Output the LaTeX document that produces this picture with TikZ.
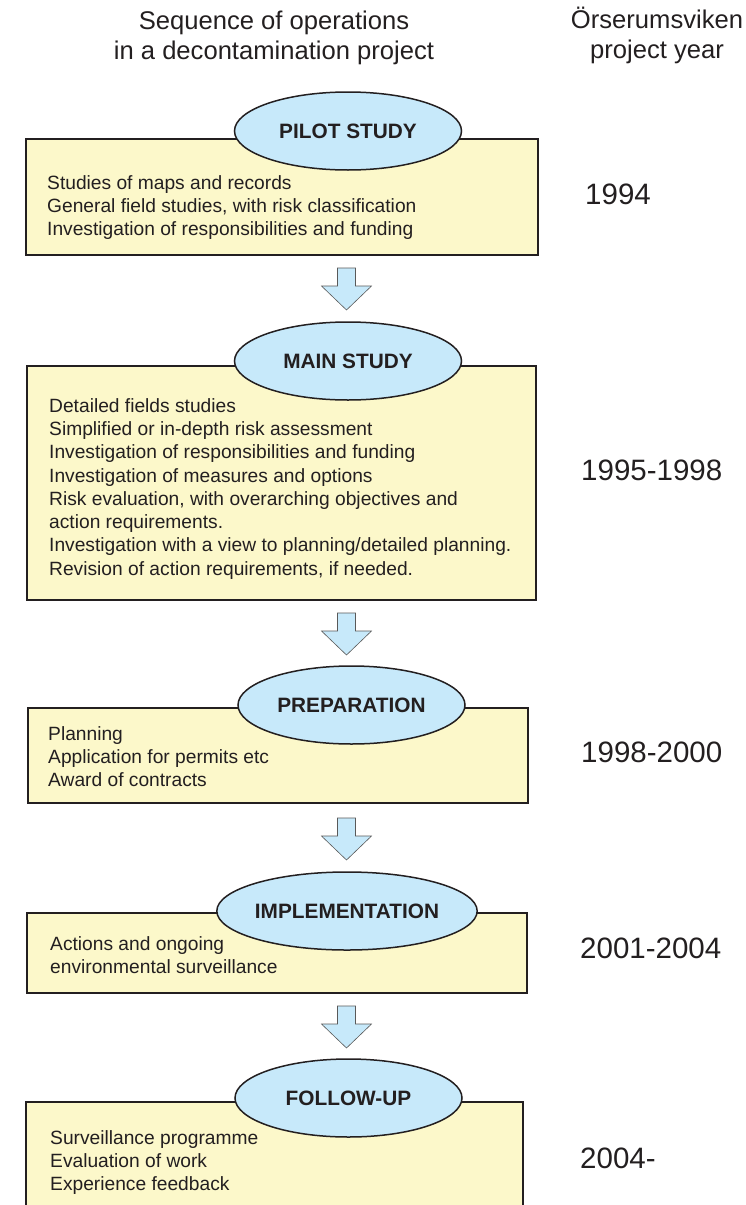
\documentclass[tikz,border=0pt]{standalone}
\usepackage{fontspec}
\setmainfont{Liberation Sans}
\usetikzlibrary{shapes.geometric,fit}

\definecolor{linecol}{RGB}{35,31,32}
\definecolor{boxfill}{RGB}{252,248,202}
\definecolor{ellfill}{RGB}{199,233,250}

\tikzset{
  stagebox/.style={draw=linecol, line width=1.7pt, fill=boxfill, inner sep=0pt},
  stagelabel/.style={ellipse, draw=linecol, line width=1.5pt, fill=ellfill,
    minimum width=227pt, minimum height=78pt, inner sep=0pt,
    font=\fontsize{20.8}{24}\selectfont\bfseries, text=linecol},
  itemtext/.style={anchor=north west, align=left, inner sep=0pt,
    font=\fontsize{19.2}{23.3}\selectfont, text=linecol},
  headtext/.style={anchor=north, align=center, inner sep=0pt,
    font=\fontsize{25.6}{30}\selectfont, text=linecol},
  yeartext/.style={anchor=west, inner sep=0pt,
    font=\fontsize{29.5}{34}\selectfont, text=linecol},
  flowarrow/.style={fill=ellfill, draw=black!65, line width=0.6pt, line join=miter}
}

\begin{document}
\begin{tikzpicture}[x=1pt, y=-1pt]
  \clip (0,0) rectangle (746,1205);

  % headings
  \node[headtext] (lefthead) at (274,10.5) {Sequence of operations\\in a decontamination project};
  \node[headtext] (righthead) at (657,7) {Örserumsviken\\project year};

  % stage boxes
  \node[stagebox, fit={(26,139) (538,255)}] (pilotbox) {};
  \node[stagebox, fit={(27,366) (536,600)}] (mainbox) {};
  \node[stagebox, fit={(28,708) (528,803)}] (prepbox) {};
  \node[stagebox, fit={(27,913) (527,993)}] (implbox) {};
  \node[stagebox, fit={(26,1102) (523,1220)}] (followbox) {};

  % stage names
  \node[stagelabel] (pilot) at (348,131) {PILOT STUDY};
  \node[stagelabel] (main) at (348,361) {MAIN STUDY};
  \node[stagelabel] (prep) at (351.5,705) {PREPARATION};
  \node[stagelabel] (impl) at (347,911) {IMPLEMENTATION};
  \node[stagelabel] (follow) at (348.5,1098) {FOLLOW-UP};

  % arrows between stages
  \foreach \yt in {268,613,818,1006}
    \draw[flowarrow] (337.5,\yt) -- (355.5,\yt) -- (355.5,\yt+18) -- (371.5,\yt+18)
      -- (346.5,\yt+42) -- (321.5,\yt+18) -- (337.5,\yt+18) -- cycle;

  % contents
  \node[itemtext] (pilottext) at (47,175) {Studies of maps and records\\
    General field studies, with risk classification\\
    Investigation of responsibilities and funding};
  \node[itemtext] (maintext) at (49,398) {Detailed fields studies\\
    Simplified or in-depth risk assessment\\
    Investigation of responsibilities and funding\\
    Investigation of measures and options\\
    Risk evaluation, with overarching objectives and\\
    action requirements.\\
    Investigation with a view to planning/detailed planning.\\
    Revision of action requirements, if needed.};
  \node[itemtext] (preptext) at (48,726) {Planning\\
    Application for permits etc\\
    Award of contracts};
  \node[itemtext] (impltext) at (50,936) {Actions and ongoing\\
    environmental surveillance};
  \node[itemtext] (followtext) at (50,1130) {Surveillance programme\\
    Evaluation of work\\
    Experience feedback};

  % project years
  \node[yeartext] (y1) at (585,194) {1994};
  \node[yeartext] (y2) at (581,470) {1995-1998};
  \node[yeartext] (y3) at (581,752) {1998-2000};
  \node[yeartext] (y4) at (580,948) {2001-2004};
  \node[yeartext] (y5) at (580,1158) {2004-};
\end{tikzpicture}
\end{document}
